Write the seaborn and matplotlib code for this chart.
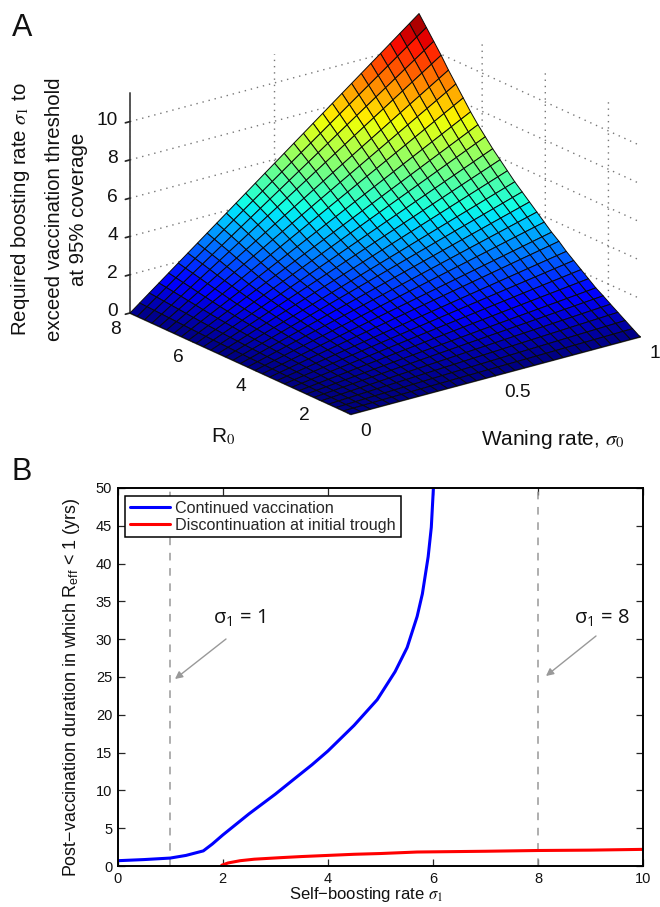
import numpy as np
import pandas as pd
import matplotlib
matplotlib.use('Agg')
import matplotlib.pyplot as plt
import seaborn as sns
from mpl_toolkits.mplot3d import proj3d

# panel A
waning = np.linspace(0, 1, 31)
r0 = np.linspace(1, 8, 31)
boost_at_full_waning = [0, 0.25, 0.5, 0.75, 1.0, 1.26, 1.5, 1.8, 2.1, 2.4, 2.7,
                        3.05, 3.35, 3.7, 4.05, 4.4, 4.75, 5.1, 5.5, 5.9, 6.3,
                        6.75, 7.2, 7.7, 8.25, 8.8, 9.35, 9.95, 10.5, 11.05, 11.6]
z_top = 11.5
waning_ticks = [0, 0.5, 1]
r0_ticks = [2, 4, 6, 8]
z_ticks = [0, 2, 4, 6, 8, 10]

# panel B
s1_cont = [0, 0.5, 1, 1.3, 1.63, 1.8, 2, 2.5, 3, 3.34, 3.7, 4, 4.5, 4.94, 5.28, 5.51, 5.7, 5.8, 5.91, 5.97, 6.01]
dur_cont = [0.7, 0.85, 1.05, 1.4, 2, 2.9, 4.1, 6.9, 9.5, 11.4, 13.4, 15.2, 18.6, 22, 25.7, 28.9, 33, 36, 40.9, 44.8, 50]
s1_stop = [1.98, 2.1, 2.33, 2.6, 3.09, 3.5, 4, 4.5, 5, 5.7, 7, 8, 9, 10]
dur_stop = [0.1, 0.4, 0.7, 0.9, 1.1, 1.25, 1.4, 1.55, 1.65, 1.85, 1.95, 2.05, 2.1, 2.2]

W, H = 660, 907
sns.set_theme(style='ticks')
plt.rcParams['font.family'] = ['Liberation Sans', 'DejaVu Sans']
plt.rcParams['mathtext.fontset'] = 'stix'
plt.rcParams['grid.linestyle'] = (0, (1, 3.5))
plt.rcParams['grid.linewidth'] = 1
plt.rcParams['grid.color'] = '#777777'

fig = plt.figure(figsize=(W / 100, H / 100), dpi=100)

def px_text(x, y, s, **kw):
    kw.setdefault('ha', 'center')
    kw.setdefault('va', 'center')
    kw.setdefault('color', '#111111')
    return fig.text(x / W, 1 - y / H, s, **kw)

# surface
ax = fig.add_axes([0.05, 0.5, 0.9, 0.9 * W / H], projection='3d', proj_type='ortho')
ax.view_init(elev=20.5, azim=-127.4)
ax.set_box_aspect((1, 1, 0.646))
ax.set_xlim(0, 1, view_margin=0)
ax.set_ylim(1, 8, view_margin=0)
ax.set_zlim(0, z_top, view_margin=0)
X, Y = np.meshgrid(waning, r0)
Z = np.outer(boost_at_full_waning, waning)
ax.plot_surface(X, Y, Z, cmap='jet', vmin=0, vmax=11.6, rstride=1, cstride=1,
                edgecolor='#0a0a0a', linewidth=0.7, shade=False, antialiased=True)
ax.set_xticks(waning_ticks)
ax.set_yticks(r0_ticks)
ax.set_zticks(z_ticks)
ax.set_xticklabels([])
ax.set_yticklabels([])
ax.set_zticklabels([])
for axis in [ax.xaxis, ax.yaxis, ax.zaxis]:
    axis.set_pane_color((1, 1, 1, 0))
    axis.pane.set_edgecolor('none')
    axis.line.set_color('#555555')
    axis.line.set_linewidth(1.4)
    axis._axinfo['tick']['inward_factor'] = 0
    axis._axinfo['tick']['outward_factor'] = 0.2
ax.zaxis._axinfo['tick']['inward_factor'] = 0.2
ax.zaxis._axinfo['tick']['outward_factor'] = 0

# scale the 3d box so its floor corners land where the reference has them
def corner_px(x, y, z):
    xp, yp, _ = proj3d.proj_transform(x, y, z, ax.get_proj())
    dx, dy = ax.transData.transform((xp, yp))
    return dx, H - dy

for i in range(3):
    fig.canvas.draw()
    lx, ly = corner_px(0, 8, 0)
    rx, ry = corner_px(1, 1, 0)
    p = ax.get_position()
    size = p.width * W * (640 - 130) / (rx - lx)
    fx = p.x0 * W + (130 - lx) * size / (p.width * W)
    top = (1 - p.y1) * H
    fy = top + (313 - ly) * size / (p.width * W)
    ax.set_position([fx / W, 1 - (fy + size) / H, size / W, size / H])
fig.canvas.draw()

# tick labels follow the projected axes
for v in waning_ticks:
    x, y = corner_px(v, 1, 0)
    px_text(x + 9, y + 17, str(v), ha='left', fontsize=13.8)
for v in r0_ticks:
    x, y = corner_px(0, v, 0)
    px_text(x - 15, y + 16, str(v), fontsize=13.8)
for v in z_ticks:
    x, y = corner_px(0, 8, v)
    px_text(x - 12, y - 1, str(v), ha='right', fontsize=13.8)

px_text(22, 28, 'A', fontsize=22)
px_text(22, 472, 'B', fontsize=22)
px_text(21, 209, 'Required boosting rate $\\sigma_1$ to', rotation=90, fontsize=14.7)
px_text(55, 209, 'exceed vaccination threshold', rotation=90, fontsize=14.7)
px_text(78, 209, 'at 95% coverage', rotation=90, fontsize=14.7)
px_text(223, 437, 'R$_0$', fontsize=15)
px_text(553, 440, 'Waning rate, $\\sigma_0$', fontsize=15)

# duration panel
ax2 = fig.add_axes([117.7 / W, 1 - 866 / H, (643 - 117.7) / W, (866 - 488) / H])
cont = pd.DataFrame({'s1': s1_cont, 'dur': dur_cont})
stop = pd.DataFrame({'s1': s1_stop, 'dur': dur_stop})
sns.lineplot(data=cont, x='s1', y='dur', color='#0000ff', lw=2.2, ax=ax2,
             label='Continued vaccination', estimator=None, sort=False)
sns.lineplot(data=stop, x='s1', y='dur', color='#ff0000', lw=2.2, ax=ax2,
             label='Discontinuation at initial trough', estimator=None, sort=False)
for v in [1, 8]:
    ax2.axvline(v, color='#999999', ls=(0, (5, 5)), lw=1.1, zorder=1)
ax2.set_xlim(0, 10)
ax2.set_ylim(0, 50)
ax2.set_xticks([0, 2, 4, 6, 8, 10])
ax2.set_yticks(np.arange(0, 51, 5))
ax2.set_xlabel('')
ax2.set_ylabel('')
ax2.tick_params(direction='in', top=True, right=True, length=5, width=0.9, labelsize=10.5,
                labelcolor='#111111', pad=4)
for s in ax2.spines.values():
    s.set_linewidth(1.4)
    s.set_color('black')
ax2.legend(loc='upper left', bbox_to_anchor=(7.3 / 525, 1 - 8 / 378), borderaxespad=0, fancybox=False,
           edgecolor='black', framealpha=1, fontsize=11.6, labelspacing=0.15, borderpad=0.28,
           handlelength=2.5, handletextpad=0.35)
ax2.get_legend().get_frame().set_linewidth(1.1)

arrow = dict(arrowstyle='-|>', color='#999999', lw=1, mutation_scale=11, shrinkA=0, shrinkB=0)
for head, tail in [((175, 679), (226, 639)), ((546, 676), (596, 636))]:
    ax2.annotate('', xy=(head[0] / W, 1 - head[1] / H), xycoords='figure fraction',
                 xytext=(tail[0] / W, 1 - tail[1] / H), textcoords='figure fraction', arrowprops=arrow)
px_text(239, 618, '$\\mathregular{\\sigma_1}$ = 1', fontsize=14.5, family=['Open Sans', 'DejaVu Sans'])
px_text(602, 618, '$\\mathregular{\\sigma_1}$ = 8', fontsize=14.5, family=['Open Sans', 'DejaVu Sans'])
px_text(72, 687, 'Post\u2212vaccination duration in which R$_{\\mathregular{eff}}$ < 1 (yrs)',
        rotation=90, fontsize=12.9)
px_text(366, 894, 'Self\u2212boosting rate $\\sigma_1$', fontsize=12)

fig.savefig('out.png', dpi=100)
